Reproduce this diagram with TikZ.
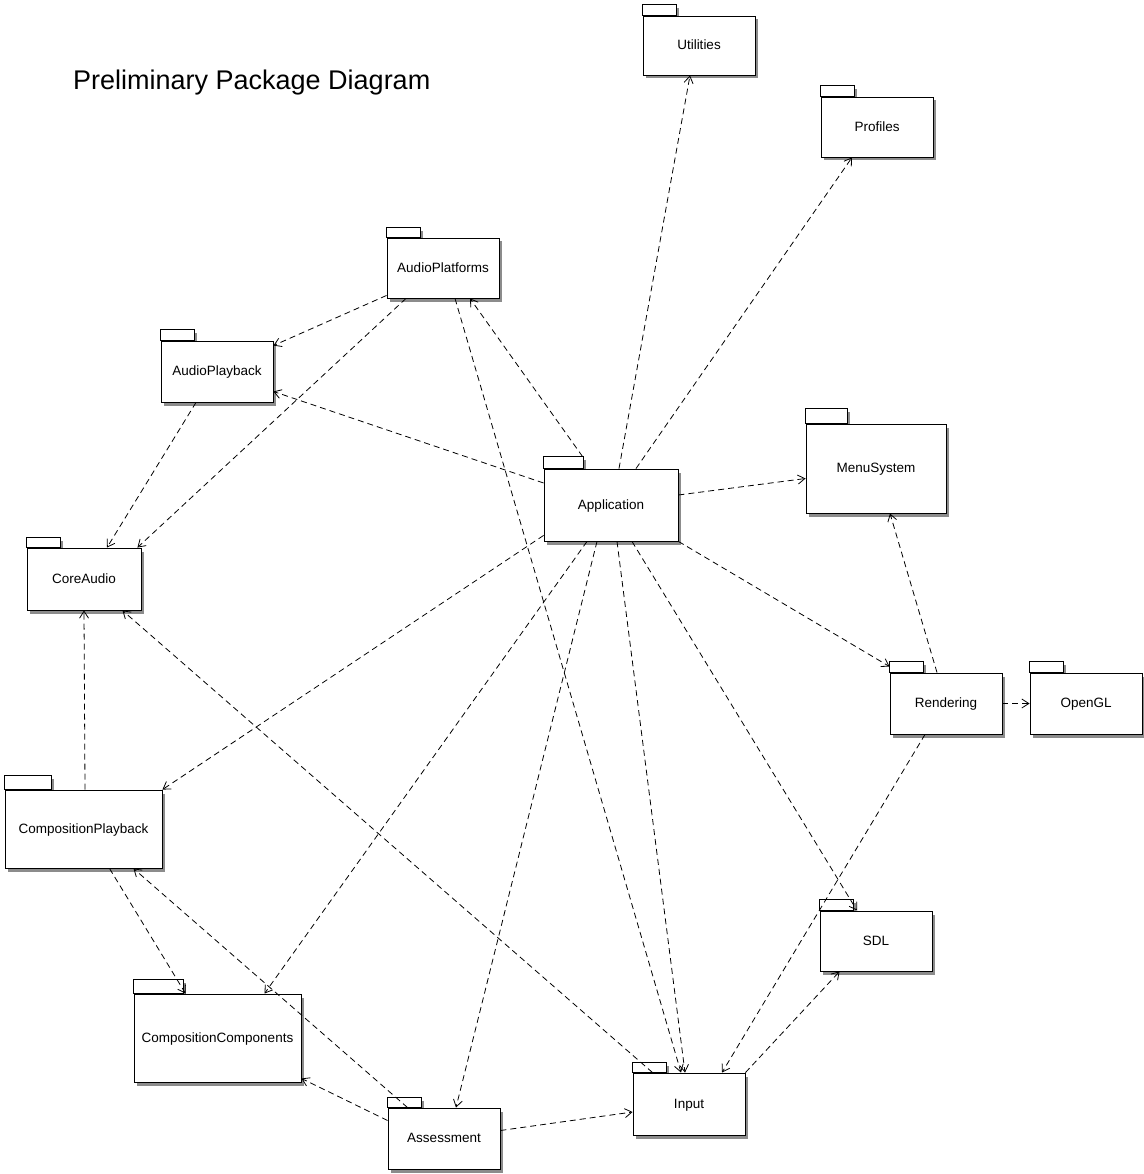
\documentclass[tikz,border=0pt]{standalone}
\usepackage{fontspec}
\setmainfont{Liberation Sans}
\usepackage{tikz}
\usetikzlibrary{arrows.meta,shadows,backgrounds}

\begin{document}
\begin{tikzpicture}[x=1pt,y=-1pt]
    \tikzstyle{shade} = [drop shadow={shadow xshift=2.5pt,shadow yshift=-3.5pt,fill=black!45,opacity=1}]
    \tikzstyle{pkg} = [draw,rectangle,fill=white,line width=0.9pt,inner sep=0pt,
        font=\fontsize{13.5}{16}\selectfont,text depth=1pt,shade]
    \tikzstyle{dep} = [dashed,dash pattern=on 6pt off 4pt,line width=0.8pt,
        -{Straight Barb[length=7pt,width=9pt]}]
    \useasboundingbox (0,0) rectangle (1143,1174);
    \node[anchor=west,inner sep=0pt,font=\fontsize{27}{32}\selectfont] (title) at (73,83) {Preliminary Package Diagram};
    % packages
    \node[pkg,minimum width=112pt,minimum height=59pt] (util) at (699,45.5) {Utilities};
    \node[pkg,minimum width=112pt,minimum height=60pt] (prof) at (877,127) {Profiles};
    \node[pkg,minimum width=112pt,minimum height=60pt] (aplat) at (443,268) {AudioPlatforms};
    \node[pkg,minimum width=112pt,minimum height=61pt] (aplay) at (217,371.5) {AudioPlayback};
    \node[pkg,minimum width=140pt,minimum height=89pt] (menu) at (876,468.5) {MenuSystem};
    \node[pkg,minimum width=134pt,minimum height=72pt] (app) at (611,505) {Application};
    \node[pkg,minimum width=114pt,minimum height=62pt] (core) at (84,579) {CoreAudio};
    \node[pkg,minimum width=112pt,minimum height=61pt] (rend) at (946,703.5) {Rendering};
    \node[pkg,minimum width=112pt,minimum height=61pt] (ogl) at (1086,703.5) {OpenGL};
    \node[pkg,minimum width=157pt,minimum height=78pt] (cplay) at (83.5,829) {CompositionPlayback};
    \node[pkg,minimum width=112pt,minimum height=60pt] (sdl) at (876,941) {SDL};
    \node[pkg,minimum width=167pt,minimum height=88pt] (ccomp) at (217.5,1038) {CompositionComponents};
    \node[pkg,minimum width=112pt,minimum height=62pt] (input) at (689,1104) {Input};
    \node[pkg,minimum width=112pt,minimum height=61pt] (assess) at (444,1138.5) {Assessment};
    % tabs
    \begin{scope}[on background layer]
    \foreach \n/\w/\h in {util/34/11,prof/34/11,aplat/34/10,aplay/34/11,menu/42/15,
        app/40/12,core/34/10,rend/34/11,ogl/34/11,cplay/47/14,sdl/34/11,
        ccomp/50/14,input/34/10,assess/34/10}
        \draw[fill=white,line width=0.9pt,shade] (\n.north west) rectangle ++(\w,-\h);
    \end{scope}
    % dependencies
    \draw[dep] ([xshift=8pt]app.north) -- ([xshift=-9pt]util.south);
    \draw[dep] ([xshift=25pt]app.north) -- ([xshift=-25pt]prof.south);
    \draw[dep] ([shift={(39pt,12pt)}]app.north west) -- ([xshift=27pt]aplat.south);
    \draw[dep] ([yshift=22pt]app.west) -- ([yshift=-20pt]aplay.east);
    \draw[dep] ([yshift=10pt]app.east) -- ([yshift=-10pt]menu.west);
    \draw[dep] (app.south east) -- ([yshift=6pt]rend.north west);
    \draw[dep] ([xshift=21pt]app.south) -- ([xshift=-19pt]sdl.north);
    \draw[dep] ([xshift=6pt]app.south) -- ([xshift=-4pt]input.north);
    \draw[dep] ([xshift=-14pt]app.south) -- ([xshift=12pt]assess.north);
    \draw[dep] ([xshift=-24pt]app.south) -- ([xshift=47pt]ccomp.north);
    \draw[dep] ([yshift=6pt]app.south west) -- (cplay.north east);
    \draw[dep] ([yshift=3pt]aplat.south west) -- ([yshift=-5pt]aplay.north east);
    \draw[dep] ([xshift=-37pt]aplat.south) -- ([xshift=-4pt]core.north east);
    \draw[dep] ([xshift=12pt]aplat.south) -- ([xshift=-8pt]input.north);
    \draw[dep] ([xshift=-21pt]aplay.south) -- ([xshift=23pt]core.north);
    \draw[dep] ([xshift=1.5pt]cplay.north) -- (core.south);
    \draw[dep] ([xshift=26pt]cplay.south) -- ([xshift=52pt]ccomp.north west);
    \draw[dep] ([xshift=20pt]input.north west) -- ([xshift=-19pt]core.south east);
    \draw[dep] ([xshift=20pt]assess.north west) -- ([xshift=-29pt]cplay.south east);
    \draw[dep] ([yshift=18pt]assess.west) -- ([yshift=4pt]ccomp.south east);
    \draw[dep] ([yshift=8pt]assess.east) -- ([yshift=-8pt]input.west);
    \draw[dep] ([xshift=-9pt]rend.north) -- ([xshift=14pt]menu.south);
    \draw[dep] (rend.east) -- (ogl.west);
    \draw[dep] ([xshift=-21pt]rend.south) -- ([xshift=33pt]input.north);
    \draw[dep] (input.north east) -- ([xshift=20pt]sdl.south west);
\end{tikzpicture}
\end{document}
